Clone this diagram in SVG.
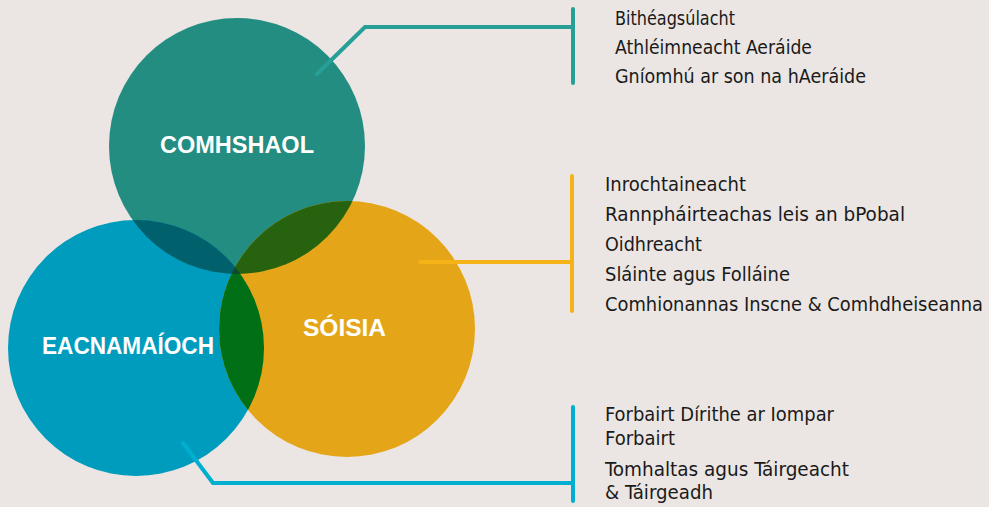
<svg xmlns="http://www.w3.org/2000/svg" width="989" height="507" viewBox="0 0 989 507">
<style>
.lbl{font-family:"Liberation Sans",Arial,sans-serif;font-weight:bold;font-size:24px;fill:#ffffff}
.item{font-family:"DejaVu Sans Condensed","DejaVu Sans",Tahoma,sans-serif;font-size:19px;fill:#1a1a1a}
.con{fill:none;stroke-width:4;stroke-linecap:round;stroke-linejoin:miter}
</style>
<defs>
<clipPath id="cT"><circle cx="237" cy="146" r="128"/></clipPath>
<clipPath id="cB"><circle cx="136" cy="348" r="128"/></clipPath>
<clipPath id="cY"><circle cx="347" cy="329" r="128"/></clipPath>
</defs>
<rect width="989" height="507" fill="#EBE6E3"/>
<g id="circles">
<circle id="env" cx="237" cy="146" r="128" fill="#238D81"/>
<circle id="econ" cx="136" cy="348" r="128" fill="#009CBD"/>
<circle id="soc" cx="347" cy="329" r="128" fill="#E4A618"/>
<g clip-path="url(#cT)"><circle cx="136" cy="348" r="128" fill="#00606C"/><circle cx="347" cy="329" r="128" fill="#27630F"/></g>
<g clip-path="url(#cB)"><circle cx="347" cy="329" r="128" fill="#006F15"/></g>
<g clip-path="url(#cT)"><g clip-path="url(#cB)"><circle cx="347" cy="329" r="128" fill="#0F4A2C"/></g></g>
</g>
<g id="connectors">
<path class="con" stroke="#26A096" d="M317,74 L365,27 L573,27 M573,9 L573,83"/>
<path class="con" stroke="#F6B318" d="M420,262 L572,262 M572,176 L572,311"/>
<path class="con" stroke="#00AECF" d="M183,443 L213,483 L573,483 M573,407 L573,501"/>
</g>
<g id="node-comhshaol"><text class="lbl" x="160" y="153" textLength="154" lengthAdjust="spacingAndGlyphs">COMHSHAOL</text></g>
<g id="node-eacnamaioch"><text class="lbl" x="42" y="354" textLength="172" lengthAdjust="spacingAndGlyphs">EACNAMAÍOCH</text></g>
<g id="node-soisia"><text class="lbl" x="303" y="336" textLength="83" lengthAdjust="spacingAndGlyphs">SÓISIA</text></g>
<g id="list-env">
<text class="item" x="615" y="25" textLength="120" lengthAdjust="spacingAndGlyphs">Bithéagsúlacht</text>
<text class="item" x="615" y="54" textLength="197" lengthAdjust="spacingAndGlyphs">Athléimneacht Aeráide</text>
<text class="item" x="615" y="83" textLength="251" lengthAdjust="spacingAndGlyphs">Gníomhú ar son na hAeráide</text>
</g>
<g id="list-soc">
<text class="item" x="605" y="191" textLength="141" lengthAdjust="spacingAndGlyphs">Inrochtaineacht</text>
<text class="item" x="605" y="221" textLength="300" lengthAdjust="spacingAndGlyphs">Rannpháirteachas leis an bPobal</text>
<text class="item" x="605" y="251" textLength="97" lengthAdjust="spacingAndGlyphs">Oidhreacht</text>
<text class="item" x="605" y="281" textLength="185" lengthAdjust="spacingAndGlyphs">Sláinte agus Folláine</text>
<text class="item" x="605" y="311" textLength="378" lengthAdjust="spacingAndGlyphs">Comhionannas Inscne &amp; Comhdheiseanna</text>
</g>
<g id="list-econ">
<text class="item" x="605" y="421" textLength="229" lengthAdjust="spacingAndGlyphs">Forbairt Dírithe ar Iompar</text>
<text class="item" x="605" y="445" textLength="70" lengthAdjust="spacingAndGlyphs">Forbairt</text>
<text class="item" x="605" y="476" textLength="244" lengthAdjust="spacingAndGlyphs">Tomhaltas agus Táirgeacht</text>
<text class="item" x="605" y="499" textLength="108" lengthAdjust="spacingAndGlyphs">&amp; Táirgeadh</text>
</g>
</svg>
